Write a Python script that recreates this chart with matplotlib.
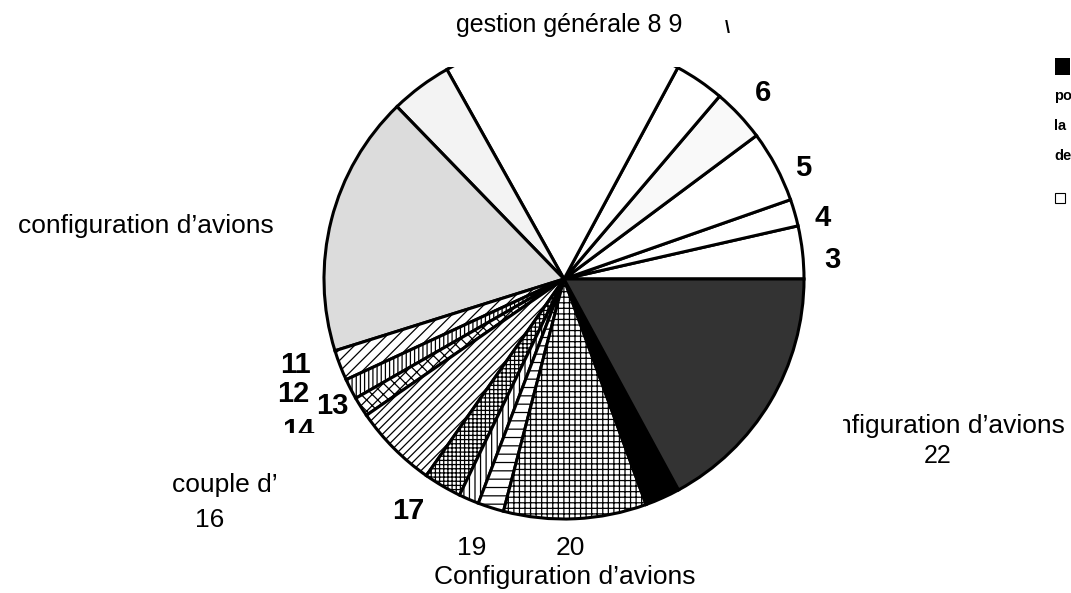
#Libraries
import matplotlib
matplotlib.use("Agg")
import matplotlib.pyplot as plt
from matplotlib.patches import Rectangle

# Data : slice sizes in degrees (counterclockwise from 3 o'clock)
slice_labels = ['3', '4', '5', '5b', '6', '7-9', '10a', '10', '11', '12', '13', '14',
                '15', '16', '17-19', '20', '21', '22']
slice_sizes = [12.8, 6.5, 17.4, 12.9, 12.1, 57.5, 14.9, 63.3, 7.4, 5.0, 4.8, 20.4,
               9.2, 4.9, 6.3, 34.6, 8.5, 61.5]

# Styles of the scanned patterns
slice_colors = ['white', 'white', 'white', '#f9f9f9', 'white', 'white', '#f3f3f3', '#dcdcdc',
                'white', 'white', 'white', 'white', 'white', 'white', 'white', 'white',
                'black', '#333333']
slice_hatches = [None, None, None, None, None, None, None, None,
                 '///', '||||', 'xxx', '////', '++++', '|||', '--', '+++', None, None]

# Figure, one axes with pixel-like coordinates
W, H = 1071, 593
def Y(y):
    return H - y

NARROW = ['Liberation Sans Narrow', 'Liberation Sans', 'DejaVu Sans']
BOLD = ['Liberation Sans', 'DejaVu Sans']
plt.rcParams['hatch.linewidth'] = 0.9

fig = plt.figure(figsize=(W / 100, H / 100), dpi=100)
ax = fig.add_axes([0, 0, 1, 1])

cx, cy, R = 564, 279, 240
wedges, _ = ax.pie(slice_sizes, startangle=0, counterclock=True, center=(cx, Y(cy)),
                   radius=R, colors=slice_colors,
                   wedgeprops=dict(edgecolor='black', linewidth=2.2))
for w, h in zip(wedges, slice_hatches):
    if h:
        w.set_hatch(h)

ax.set_xlim(0, W)
ax.set_ylim(0, H)
ax.set_aspect('equal')
ax.axis('off')

# top of the pie is cut off on the scan
clip = Rectangle((0, 0), W, Y(67), transform=ax.transData)
for w in wedges:
    w.set_clip_on(True)
    w.set_clip_path(clip)

# Labels (narrow font)
ax.text(569, Y(32), 'gestion générale 8 9', ha='center', va='baseline', fontsize=18, family=NARROW)
ax.text(727, Y(33), '\\', ha='center', va='baseline', fontsize=13, fontweight='bold', family=NARROW)
ax.text(18, Y(233), 'configuration d\u2019avions', ha='left', va='baseline', fontsize=19, family=NARROW)
ax.text(172, Y(492), 'couple d\u2019', ha='left', va='baseline', fontsize=19, family=NARROW)
ax.text(210, Y(527), '16', ha='center', va='baseline', fontsize=19, family=NARROW)
ax.text(472, Y(555), '19', ha='center', va='baseline', fontsize=19, family=NARROW)
ax.text(570, Y(555), '20', ha='center', va='baseline', fontsize=19, family=NARROW)
ax.text(565, Y(584), 'Configuration d\u2019avions', ha='center', va='baseline', fontsize=19, family=NARROW)
t = ax.text(1065, Y(433), 'nfiguration d\u2019avions', ha='right', va='baseline', fontsize=19,
            family=NARROW, clip_on=True)
t.set_clip_path(Rectangle((843, 0), W, H, transform=ax.transData))
ax.text(938, Y(463), '22', ha='center', va='baseline', fontsize=18, family=NARROW)

# Numbers (bold font from the scan)
for txt, x, y in [('6', 763, 101), ('5', 803, 176), ('4', 823, 226), ('3', 832, 268),
                  ('11', 295, 373), ('12', 293, 402), ('13', 332, 414), ('17', 408, 519)]:
    ax.text(x, Y(y), txt, ha='center', va='baseline', fontsize=21, fontweight='bold', family=BOLD)
t = ax.text(298, Y(439), '14', ha='center', va='baseline', fontsize=21, fontweight='bold',
            family=BOLD, clip_on=True)
t.set_clip_path(Rectangle((0, Y(433)), W, H, transform=ax.transData))

# Legend, at the right edge
ax.add_patch(Rectangle((1055, Y(75)), 15, 17, facecolor='black', edgecolor='none'))
for txt, y in [('po', 100), ('la', 130), ('de', 160)]:
    ax.text(1054, Y(y), txt, ha='left', va='baseline', fontsize=10.5, fontweight='bold', family=NARROW)
ax.add_patch(Rectangle((1055, Y(203)), 10, 10, facecolor='white', edgecolor='black', linewidth=0.8))

fig.savefig('out.png', dpi=100)
